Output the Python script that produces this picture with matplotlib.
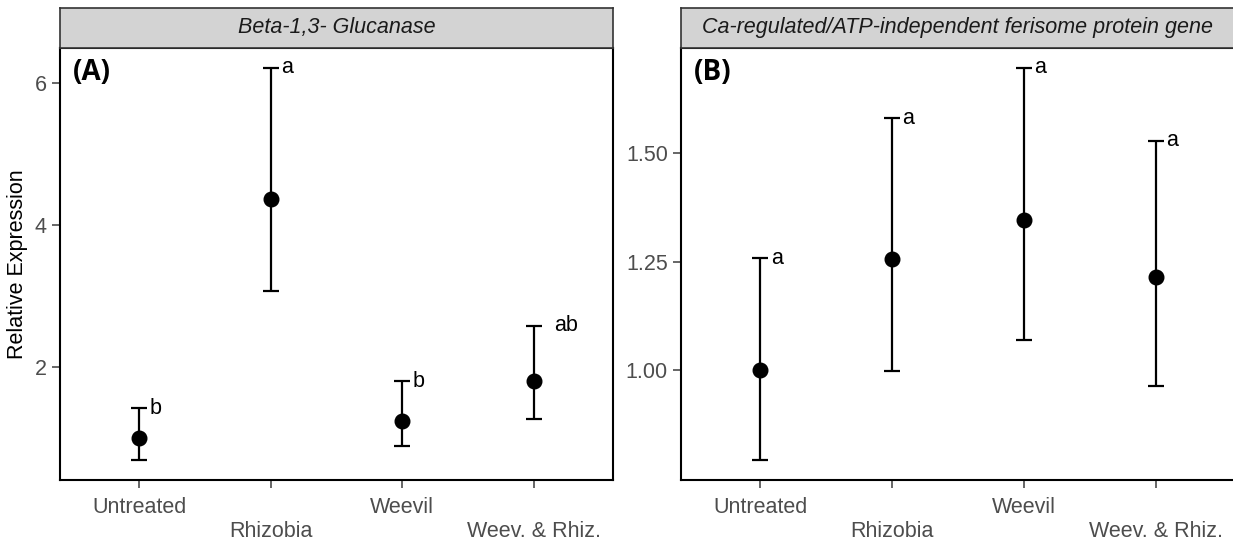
import matplotlib
matplotlib.use("Agg")
import matplotlib.pyplot as plt

plt.rcParams["font.family"] = ["Liberation Sans", "DejaVu Sans"]

# data
groups = ["Untreated", "Rhizobia", "Weevil", "Weev. & Rhiz."]
tick_labels = ["Untreated", "\nRhizobia", "Weevil", "\nWeev. & Rhiz."]

glu_mean = [1.00, 4.37, 1.25, 1.80]
glu_low = [0.69, 3.07, 0.89, 1.27]
glu_high = [1.42, 6.21, 1.80, 2.58]
glu_letters = ["b", "a", "b", "ab"]

fer_mean = [1.00, 1.256, 1.346, 1.214]
fer_low = [0.793, 0.998, 1.069, 0.963]
fer_high = [1.258, 1.580, 1.696, 1.528]
fer_letters = ["a", "a", "a", "a"]

W, H = 1233, 541
fig = plt.figure(figsize=(W / 100, H / 100), dpi=100)

GRAY30 = "#4D4D4D"


def px_rect(left, right, top, bottom):
    return [left / W, (H - bottom) / H, (right - left) / W, (bottom - top) / H]


def panel(left, right, mean, low, high, letters, title, tag,
          yticks, yfmt, ylabel=None):
    ax = fig.add_axes(px_rect(left, right, 48, 480))
    x = list(range(1, len(groups) + 1))
    err = [[m - l for m, l in zip(mean, low)],
           [h - m for m, h in zip(mean, high)]]
    ax.errorbar(x, mean, yerr=err, fmt="o", color="black", ms=10.5,
                elinewidth=1.6, capthick=1.6, capsize=5.5)
    span = max(high) - min(low)
    ax.set_ylim(min(low) - 0.05 * span, max(high) + 0.05 * span)
    ax.set_xlim(0.4, 4.6)
    ax.set_xticks(x)
    ax.set_xticklabels(tick_labels)
    ax.set_yticks(yticks)
    ax.set_yticklabels([yfmt.format(v) for v in yticks])
    ax.tick_params(colors=GRAY30, labelsize=15.5, length=6, width=1.2,
                   labelcolor=GRAY30)
    ax.tick_params(axis="x", pad=6)
    for sp in ax.spines.values():
        sp.set_color("black")
        sp.set_linewidth(1.5)
    for xi, hi, lab in zip(x, high, letters):
        off = 0.15 if len(lab) > 1 else 0.08
        ax.text(xi + off, hi, lab, ha="left", va="center",
                fontsize=15.5, color="black")
    ax.text(0.024, 0.944, tag, transform=ax.transAxes, ha="left",
            va="center", fontsize=20, fontweight="bold",
            family=["Open Sans", "DejaVu Sans"])
    if ylabel:
        ax.set_ylabel(ylabel, fontsize=15.5, color="black", labelpad=5)

    sax = fig.add_axes(px_rect(left, right, 8, 48))
    sax.set_facecolor("#D3D3D3")
    sax.set_xticks([])
    sax.set_yticks([])
    for sp in sax.spines.values():
        sp.set_color("#333333")
        sp.set_linewidth(1.2)
    sax.text(0.5, 0.5, title, transform=sax.transAxes, ha="center",
             va="center", fontsize=15.5, style="italic", color="#1A1A1A")
    return ax


panel(60, 613, glu_mean, glu_low, glu_high, glu_letters,
      "Beta-1,3- Glucanase", "(A)", [2, 4, 6], "{:g}",
      ylabel="Relative Expression")
panel(681, 1235, fer_mean, fer_low, fer_high, fer_letters,
      "Ca-regulated/ATP-independent ferisome protein gene", "(B)",
      [1.00, 1.25, 1.50], "{:.2f}")

fig.savefig("out.png", dpi=100)
